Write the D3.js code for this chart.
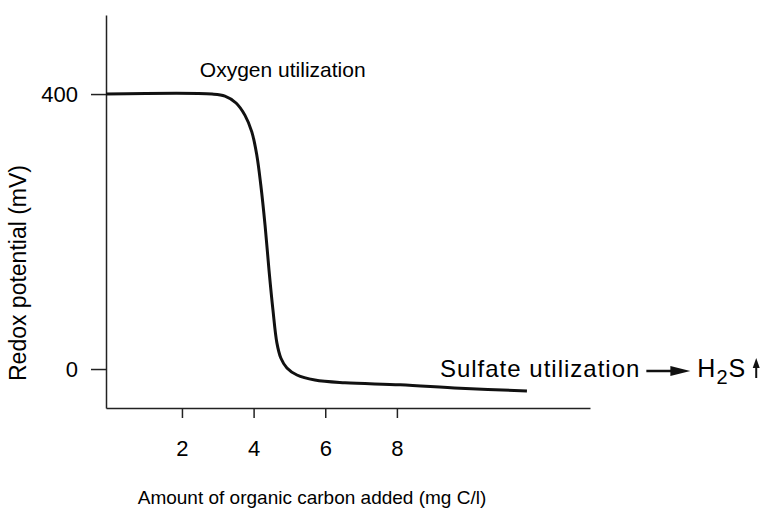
<!DOCTYPE html>
<html>
<head>
<meta charset="utf-8">
<script src="https://cdn.jsdelivr.net/npm/d3@7"></script>
<style>
  body { margin: 0; background: #fff; }
  svg { display: block; }
  text { font-family: "Liberation Sans", Arial, sans-serif; fill: #000; }
</style>
</head>
<body>
<svg width="770" height="532"></svg>
<script>
// curve: organic carbon added (mg C/l) vs redox potential (mV)
var carbon = [-0.12, 2.84, 3.2, 3.51, 3.76, 3.95, 4.09, 4.2, 4.32, 4.43, 4.54, 4.65, 4.76, 4.93, 5.21, 5.71, 6.55, 8.09, 9.76, 11.63];
var redox  = [400, 400, 397, 387, 369, 345, 311, 268, 209, 144, 86, 38, 16, 1.5, -8.7, -16, -20, -23, -28, -32];

var xTicks = [2, 4, 6, 8];
var yTicks = [0, 400];

var svg = d3.select("svg");

var x = d3.scaleLinear()
  .domain([-0.12, 13.39])
  .range([106, 590]);

var y = d3.scaleLinear()
  .domain([-56.7, 515])
  .range([408, 15]);

var data = carbon.map(function(c, i) { return {c: c, r: redox[i]}; });

var line = d3.line()
  .x(function(d) { return x(d.c); })
  .y(function(d) { return y(d.r); })
  .curve(d3.curveCatmullRom.alpha(0.5));

svg.append("g")
  .attr("transform", "translate(0," + y(-56.7) + ")")
  .call(d3.axisBottom(x).tickValues(xTicks).tickSize(10).tickSizeOuter(0).tickPadding(22));

svg.append("g")
  .attr("transform", "translate(" + x(-0.12) + ",0)")
  .call(d3.axisLeft(y).tickValues(yTicks).tickSize(15).tickSizeOuter(0).tickPadding(13));

svg.selectAll(".tick text")
  .style("font-size", "22px")
  .attr("fill", "#000");
svg.selectAll(".domain, .tick line")
  .attr("stroke", "#222")
  .attr("stroke-width", 1.5);

svg.append("path")
  .datum(data)
  .attr("fill", "none")
  .attr("stroke", "#111")
  .attr("stroke-width", 3)
  .attr("stroke-linejoin", "round")
  .attr("d", line);

// axis titles
svg.append("text")
  .attr("x", 312)
  .attr("y", 504)
  .attr("text-anchor", "middle")
  .style("font-size", "19px")
  .text("Amount of organic carbon added (mg C/l)");

svg.append("text")
  .attr("transform", "translate(26,273) rotate(-90)")
  .attr("text-anchor", "middle")
  .style("font-size", "23px")
  .text("Redox potential (mV)");

// annotations
svg.append("text")
  .attr("x", x(2.5))
  .attr("y", y(425))
  .style("font-size", "21px")
  .text("Oxygen utilization");

var sulf = svg.append("text")
  .attr("x", x(9.2))
  .attr("y", y(-11.6))
  .style("font-size", "24px")
  .style("letter-spacing", "1px")
  .text("Sulfate utilization");

var sx = x(9.2) + sulf.node().getComputedTextLength(),
    sy = y(-11.6);

// right arrow
svg.append("line")
  .attr("x1", sx + 6).attr("y1", sy - 6)
  .attr("x2", sx + 32).attr("y2", sy - 6)
  .attr("stroke", "#111").attr("stroke-width", 2.5);
svg.append("path")
  .attr("d", "M" + (sx + 50) + "," + (sy - 6) + "L" + (sx + 30) + "," + (sy - 11) + "L" + (sx + 30) + "," + (sy - 1) + "Z")
  .attr("fill", "#111");

var h2s = svg.append("text")
  .attr("x", sx + 57)
  .attr("y", sy)
  .style("font-size", "25px")
  .style("letter-spacing", "1px");
h2s.append("tspan").text("H");
h2s.append("tspan").attr("dy", 7).style("font-size", "20px").text("2");
h2s.append("tspan").attr("dy", -7).text("S");

var hx = sx + 57 + h2s.node().getComputedTextLength();

// up arrow
svg.append("line")
  .attr("x1", hx + 10).attr("y1", sy + 1)
  .attr("x2", hx + 10).attr("y2", sy - 11)
  .attr("stroke", "#111").attr("stroke-width", 2);
svg.append("path")
  .attr("d", "M" + (hx + 10) + "," + (sy - 19) + "L" + (hx + 6.5) + "," + (sy - 9) + "L" + (hx + 13.5) + "," + (sy - 9) + "Z")
  .attr("fill", "#111");
</script>
</body>
</html>
